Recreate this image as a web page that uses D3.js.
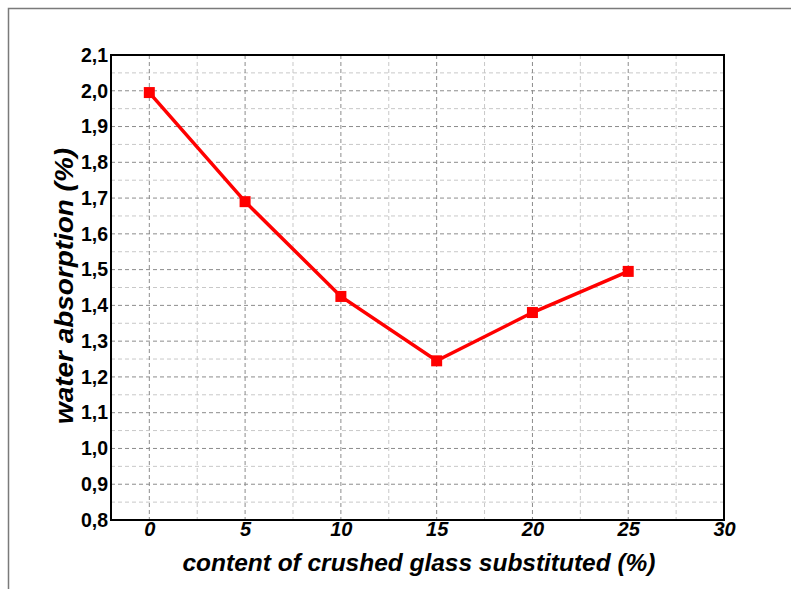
<!DOCTYPE html>
<html>
<head>
<meta charset="utf-8">
<script src="https://cdn.jsdelivr.net/npm/d3@7"></script>
<style>
  body { margin: 0; background: #fff; }
  text { font-family: "Liberation Sans", Arial, sans-serif; }
</style>
</head>
<body>
<div id="chart"></div>
<script>
// data
const glassContent = [0, 5, 10, 15, 20, 25];
const waterAbsorption = [1.995, 1.69, 1.425, 1.245, 1.38, 1.495];
const xTicks = [0, 5, 10, 15, 20, 25, 30];
const yTicks = [0.8, 0.9, 1.0, 1.1, 1.2, 1.3, 1.4, 1.5, 1.6, 1.7, 1.8, 1.9, 2.0, 2.1];
const xMinorGrid = [2.5, 7.5, 12.5, 17.5, 22.5, 27.5];
const yMinorGrid = d3.range(0.85, 2.1, 0.1);

const width = 791, height = 589;
const margin = { top: 55, right: 67, bottom: 69, left: 111 };
const innerW = width - margin.left - margin.right;
const innerH = height - margin.top - margin.bottom;

const svg = d3.select("#chart").append("svg")
    .attr("width", width)
    .attr("height", height);

// outer frame
svg.append("rect")
    .attr("x", 8.5).attr("y", 8.5)
    .attr("width", width).attr("height", height)
    .attr("fill", "none")
    .attr("stroke", "#7a7a7a")
    .attr("stroke-width", 1.5);

const g = svg.append("g").attr("transform", `translate(${margin.left},${margin.top})`);

const x = d3.scaleLinear().domain([-2, 30]).range([0, innerW]);
const y = d3.scaleLinear().domain([0.8, 2.1]).range([innerH, 0]);

// minor grid
g.selectAll(".vminor").data(xMinorGrid).enter().append("line")
    .attr("x1", d => x(d)).attr("x2", d => x(d))
    .attr("y1", 0).attr("y2", innerH)
    .attr("stroke", "#c8c8c8").attr("stroke-dasharray", "4,3");
g.selectAll(".hminor").data(yMinorGrid).enter().append("line")
    .attr("x1", 0).attr("x2", innerW)
    .attr("y1", d => y(d)).attr("y2", d => y(d))
    .attr("stroke", "#c8c8c8").attr("stroke-dasharray", "4,3");

// major grid
g.selectAll(".vmajor").data(xTicks.filter(d => d < 30)).enter().append("line")
    .attr("x1", d => x(d)).attr("x2", d => x(d))
    .attr("y1", 0).attr("y2", innerH)
    .attr("stroke", "#8c8c8c").attr("stroke-dasharray", "4,3");
g.selectAll(".hmajor").data(yTicks.slice(1, -1)).enter().append("line")
    .attr("x1", 0).attr("x2", innerW)
    .attr("y1", d => y(d)).attr("y2", d => y(d))
    .attr("stroke", "#8c8c8c").attr("stroke-dasharray", "4,3");

// plot frame
g.append("rect")
    .attr("width", innerW).attr("height", innerH)
    .attr("fill", "none").attr("stroke", "#000").attr("stroke-width", 2);

// axes
const fmt = d => d.toFixed(1).replace(".", ",");
const yAxis = g.append("g")
    .call(d3.axisLeft(y).tickValues(yTicks).tickFormat(fmt).tickSize(0).tickPadding(3));
yAxis.select(".domain").remove();
yAxis.selectAll("text")
    .attr("font-size", "19.5px").attr("font-weight", "bold").attr("fill", "#000");

const xAxis = g.append("g")
    .attr("transform", `translate(0,${innerH})`)
    .call(d3.axisBottom(x).tickValues(xTicks).tickSize(0).tickPadding(2));
xAxis.select(".domain").remove();
xAxis.selectAll("text")
    .attr("font-size", "20px").attr("font-weight", "bold")
    .attr("font-style", "italic").attr("fill", "#000");

// line + markers
const pts = glassContent.map((d, i) => [d, waterAbsorption[i]]);
g.append("path")
    .datum(pts)
    .attr("fill", "none")
    .attr("stroke", "#ff0000")
    .attr("stroke-width", 3.5)
    .attr("d", d3.line().x(d => x(d[0])).y(d => y(d[1])));

g.selectAll(".pt").data(pts).enter().append("rect")
    .attr("x", d => x(d[0]) - 5.5)
    .attr("y", d => y(d[1]) - 5.5)
    .attr("width", 11).attr("height", 11)
    .attr("fill", "#ff0000");

// titles
svg.append("text")
    .attr("x", 182.5).attr("y", 570.5)
    .attr("font-size", "24px").attr("font-weight", "bold").attr("font-style", "italic")
    .attr("textLength", 473).attr("lengthAdjust", "spacingAndGlyphs")
    .text("content of crushed glass substituted (%)");

svg.append("text")
    .attr("transform", "translate(73,424) rotate(-90)")
    .attr("font-size", "25px").attr("font-weight", "bold").attr("font-style", "italic")
    .attr("textLength", 276).attr("lengthAdjust", "spacingAndGlyphs")
    .text("water absorption (%)");
</script>
</body>
</html>
